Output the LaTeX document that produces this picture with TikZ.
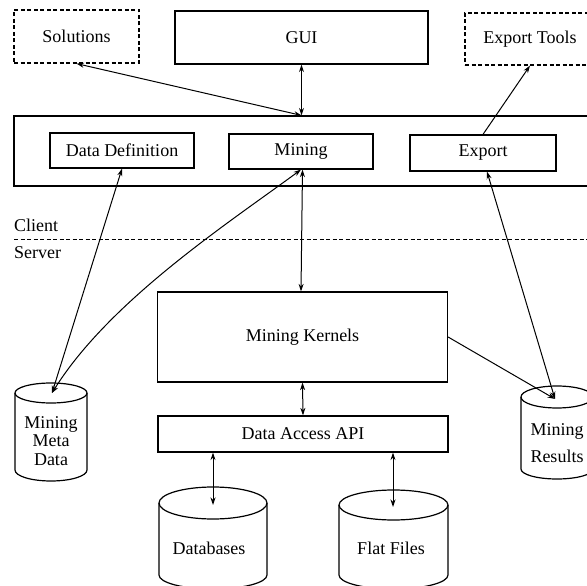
\documentclass[tikz,border=0pt]{standalone}
\usepackage{fontspec}
\setmainfont{Liberation Serif}
\usetikzlibrary{arrows.meta}
\begin{document}
\begin{tikzpicture}[x=1pt,y=-1pt,
  every node/.style={font=\fontsize{18}{19}\selectfont},
  box/.style={draw, line width=1.2pt, inner sep=0pt, align=center},
  dbox/.style={box, dash pattern=on 4pt off 2.5pt},
  lbl/.style={inner sep=0pt, align=center},
  cyl/.style={line width=1.2pt},
  arr/.style={line width=1pt, -{Stealth[length=7.5pt,width=5pt]}},
  darr/.style={line width=1pt, {Stealth[length=7.5pt,width=5pt]}-{Stealth[length=7.5pt,width=5pt]}}
]
\useasboundingbox (0,0) rectangle (587,586);
\clip (0,0) rectangle (587,586);

% top row
\node[dbox, minimum width=125pt, minimum height=53pt] (sol) at (76.5,36.5) {Solutions};
\node[box, minimum width=253pt, minimum height=53pt] (gui) at (301.5,37.5) {GUI};
\node[dbox, minimum width=130pt, minimum height=52pt] (ext) at (530,39) {Export Tools};

% client box
\node[box, minimum width=590pt, minimum height=70pt] (client) at (309,151) {};
\node[box, minimum width=144pt, minimum height=35pt] (dd) at (122,150.5) {Data Definition};
\node[box, minimum width=144pt, minimum height=35pt] (mining) at (301,151.5) {Mining};
\node[box, minimum width=146pt, minimum height=36pt] (export) at (483,153) {Export};

% client/server divider
\coordinate (divL) at (14,239);
\coordinate (divR) at (600,239);
\draw[line width=1pt, dash pattern=on 4pt off 2.5pt] (divL) -- (divR);
\node[lbl, anchor=west] (clientlbl) at (14,225) {Client};
\node[lbl, anchor=west] (serverlbl) at (14,253) {Server};

% server boxes
\node[box, minimum width=290pt, minimum height=90pt] (mk) at (302.5,337) {Mining Kernels};
\node[box, minimum width=290pt, minimum height=36pt] (daa) at (303,434) {Data Access API};

% cylinders
% Mining Meta Data
\draw[cyl] (51,393) ellipse [x radius=36pt, y radius=10pt];
\draw[cyl] (15,393) -- (15,470) arc[start angle=180, end angle=360, x radius=36pt, y radius=11pt] -- (87,393);
\node[lbl, font=\fontsize{18}{18.5}\selectfont] (meta) at (51,441) {Mining\\Meta\\Data};
\coordinate (metatop) at (52,393);

% Mining Results
\draw[cyl] (557,397) ellipse [x radius=36pt, y radius=11pt];
\draw[cyl] (521,397) -- (521,469) arc[start angle=180, end angle=360, x radius=36pt, y radius=10pt] -- (593,397);
\node[lbl, font=\fontsize{18}{27}\selectfont] (res) at (557,443) {Mining\\Results};
\coordinate (restop) at (555,399);

% Databases
\draw[cyl] (213,503) ellipse [x radius=54pt, y radius=16pt];
\draw[cyl] (159,503) -- (159,575) arc[start angle=180, end angle=360, x radius=54pt, y radius=14pt] -- (267,503);
\node[lbl] (dbtxt) at (209,548) {Databases};
\coordinate (dbtop) at (213,505);

% Flat Files
\draw[cyl] (393.5,505) ellipse [x radius=54.5pt, y radius=15pt];
\draw[cyl] (339,505) -- (339,575) arc[start angle=180, end angle=360, x radius=54.5pt, y radius=14pt] -- (448,505);
\node[lbl] (fftxt) at (391,548) {Flat Files};
\coordinate (fftop) at (393,507);

% connectors
\coordinate (guiclient) at (gui.south |- client.north);
\draw[darr] (gui.south) -- (guiclient);
\draw[darr] (guiclient) -- (sol.south);
\draw[arr] (export.north) -- (ext.south);
\draw[darr] (dd.south) -- (metatop);
\draw[darr] (mining.south) .. controls (230,222) and (110,300) .. (metatop);
\draw[darr] (mk.north -| mining.south) -- (mining.south -| mk.north);
\draw[darr] (mk.south) -- (daa.north);
\draw[darr] (daa.south -| dbtop) -- (dbtop);
\draw[darr] (daa.south -| fftop) -- (fftop);
\draw[arr] (mk.east) -- (restop);
\draw[darr] ([xshift=4pt]export.south) -- (restop);
\end{tikzpicture}
\end{document}
